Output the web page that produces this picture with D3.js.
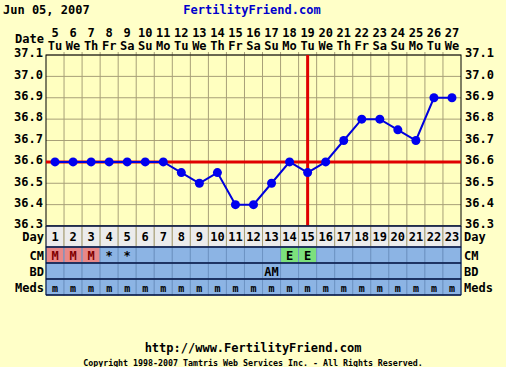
<!DOCTYPE html>
<html><head><meta charset="utf-8">
<script src="https://cdn.jsdelivr.net/npm/d3@7"></script>
<style>
body{margin:0;background:#ffffc8;}
svg text{font-family:"DejaVu Sans Mono",monospace;font-weight:bold;}
</style></head><body>
<svg id="c" width="506" height="367"></svg>
<script>
const cycleDays = d3.range(1, 24);
const dates = [5,6,7,8,9,10,11,12,13,14,15,16,17,18,19,20,21,22,23,24,25,26,27];
const weekdays = ["Tu","We","Th","Fr","Sa","Su","Mo","Tu","We","Th","Fr","Sa","Su","Mo","Tu","We","Th","Fr","Sa","Su","Mo","Tu","We"];
const temps = [36.6,36.6,36.6,36.6,36.6,36.6,36.6,36.55,36.5,36.55,36.4,36.4,36.5,36.6,36.55,36.6,36.7,36.8,36.8,36.75,36.7,36.9,36.9];
const tempTicks = [36.3,36.4,36.5,36.6,36.7,36.8,36.9,37.0,37.1];
const coverline = 36.6;
const ovulationDay = 15;
const cm = ["M","M","M","*","*","","","","","","","","","E","E","","","","","","","",""];
const bd = ["","","","","","","","","","","","","AM","","","","","","","","","",""];
const meds = cycleDays.map(() => "m");

const svg = d3.select("#c");
const L = 46, R = 461, T = 55, B = 226;
const x = d3.scaleBand().domain(cycleDays).range([L, R]);
const y = d3.scaleLinear().domain([36.3, 37.1]).range([B, T]);
const cx = d => x(d) + x.bandwidth()/2;

// header
svg.append("text").attr("x",3).attr("y",14).attr("font-size",12).attr("fill","#000").text("Jun 05, 2007");
svg.append("text").attr("x",252).attr("y",14).attr("text-anchor","middle").attr("font-size",12).attr("fill","#0000cc").text("FertilityFriend.com");
svg.append("text").attr("x",44).attr("y",43).attr("text-anchor","end").attr("font-size",12).text("Date");
svg.selectAll(".dn").data(cycleDays).join("text").attr("x",d=>cx(d)).attr("y",37).attr("text-anchor","middle").attr("font-size",12).text((d,i)=>dates[i]);
svg.selectAll(".wd").data(cycleDays).join("text").attr("x",d=>cx(d)).attr("y",50).attr("text-anchor","middle").attr("font-size",12).text((d,i)=>weekdays[i]);

// plot bg
svg.append("rect").attr("x",L).attr("y",T).attr("width",R-L).attr("height",B-T).attr("fill","#ffffc0");
// grid
const g = svg.append("g");
g.selectAll(".hl").data(tempTicks).join("line").attr("x1",L).attr("x2",R).attr("y1",d=>y(d)).attr("y2",d=>y(d)).attr("stroke","#a8a078").attr("stroke-width",1);
g.selectAll(".vl").data(cycleDays.slice(1)).join("line").attr("x1",d=>x(d)).attr("x2",d=>x(d)).attr("y1",T-3).attr("y2",B+3).attr("stroke","#a8a078").attr("stroke-width",1);
svg.append("rect").attr("x",L).attr("y",T).attr("width",R-L).attr("height",B-T).attr("fill","none").attr("stroke","#000").attr("stroke-width",1);

// axes labels
const fmt = d3.format(".1f");
const axL = svg.append("g").attr("transform",`translate(${L},0)`).call(d3.axisLeft(y).tickValues(tempTicks).tickSize(0).tickPadding(3).tickFormat(fmt));
const axR = svg.append("g").attr("transform",`translate(${R},0)`).call(d3.axisRight(y).tickValues(tempTicks).tickSize(0).tickPadding(4).tickFormat(fmt));
[axL,axR].forEach(a=>{a.select(".domain").remove();a.selectAll("text").attr("font-size",12).attr("font-family","DejaVu Sans Mono").attr("font-weight","bold").attr("fill","#000").attr("dy","0.15em");});

// coverline & ovulation
svg.append("line").attr("x1",L).attr("x2",R).attr("y1",y(coverline)).attr("y2",y(coverline)).attr("stroke","#e00000").attr("stroke-width",3);
svg.append("line").attr("x1",cx(ovulationDay)).attr("x2",cx(ovulationDay)).attr("y1",T).attr("y2",B).attr("stroke","#e00000").attr("stroke-width",3);

// temps
const line = d3.line().x((d,i)=>cx(cycleDays[i])).y(d=>y(d));
svg.append("path").datum(temps).attr("d",line).attr("fill","none").attr("stroke","#0000dd").attr("stroke-width",2);
svg.selectAll(".pt").data(temps).join("circle").attr("cx",(d,i)=>cx(cycleDays[i])).attr("cy",d=>y(d)).attr("r",4.5).attr("fill","#0000ee");

// table
const rows = [
  {name:"Day", y0:226, h:21, vals: cycleDays.map(String), bg:"#ececec"},
  {name:"CM", y0:247, h:16, vals: cm, bg:"#8cb4e4"},
  {name:"BD", y0:263, h:16, vals: bd, bg:"#8cb4e4"},
  {name:"Meds", y0:279, h:16, vals: meds, bg:"#8cb4e4"}
];
const cellColor = (r,v) => {
  if (r.name==="CM" && v==="M") return "#e88888";
  if (r.name==="CM" && v==="E") return "#7ce07c";
  return r.bg;
};
rows.forEach(r=>{
  const gr = svg.append("g");
  gr.selectAll("rect").data(cycleDays).join("rect").attr("x",d=>x(d)).attr("y",r.y0).attr("width",x.bandwidth()).attr("height",r.h)
    .attr("fill",(d,i)=>cellColor(r,r.vals[i])).attr("stroke", r.name==="Day" ? "#a8a078" : "#6e94c4").attr("stroke-width",1);
  gr.selectAll("text").data(cycleDays).join("text").attr("x",d=>cx(d)).attr("y",r.y0+r.h/2+4.5)
    .attr("text-anchor","middle").attr("font-size", r.name==="Meds"?10:12)
    .attr("fill",(d,i)=> r.vals[i]==="M" ? "#800000" : "#000")
    .text((d,i)=>r.vals[i]);
  svg.append("text").attr("x",44).attr("y",r.y0+r.h/2+4.5).attr("text-anchor","end").attr("font-size",12).text(r.name);
  svg.append("text").attr("x",464).attr("y",r.y0+r.h/2+4.5).attr("font-size",12).text(r.name);
  svg.append("line").attr("x1",L).attr("x2",R).attr("y1",r.y0).attr("y2",r.y0).attr("stroke","#001040").attr("stroke-width",1.5);
});
svg.append("line").attr("x1",L).attr("x2",R).attr("y1",295).attr("y2",295).attr("stroke","#001040").attr("stroke-width",1.5);
svg.append("line").attr("x1",L).attr("x2",L).attr("y1",226).attr("y2",295).attr("stroke","#001040").attr("stroke-width",1);
svg.append("line").attr("x1",R).attr("x2",R).attr("y1",226).attr("y2",295).attr("stroke","#001040").attr("stroke-width",1);

// footer
svg.append("text").attr("x",253).attr("y",352).attr("text-anchor","middle").attr("font-size",12).text("http://www.FertilityFriend.com");
svg.append("text").attr("x",253).attr("y",366).attr("text-anchor","middle").attr("font-size",8.3).attr("font-weight","normal").text("Copyright 1998-2007 Tamtris Web Services Inc. - All Rights Reserved.");
</script></body></html>
